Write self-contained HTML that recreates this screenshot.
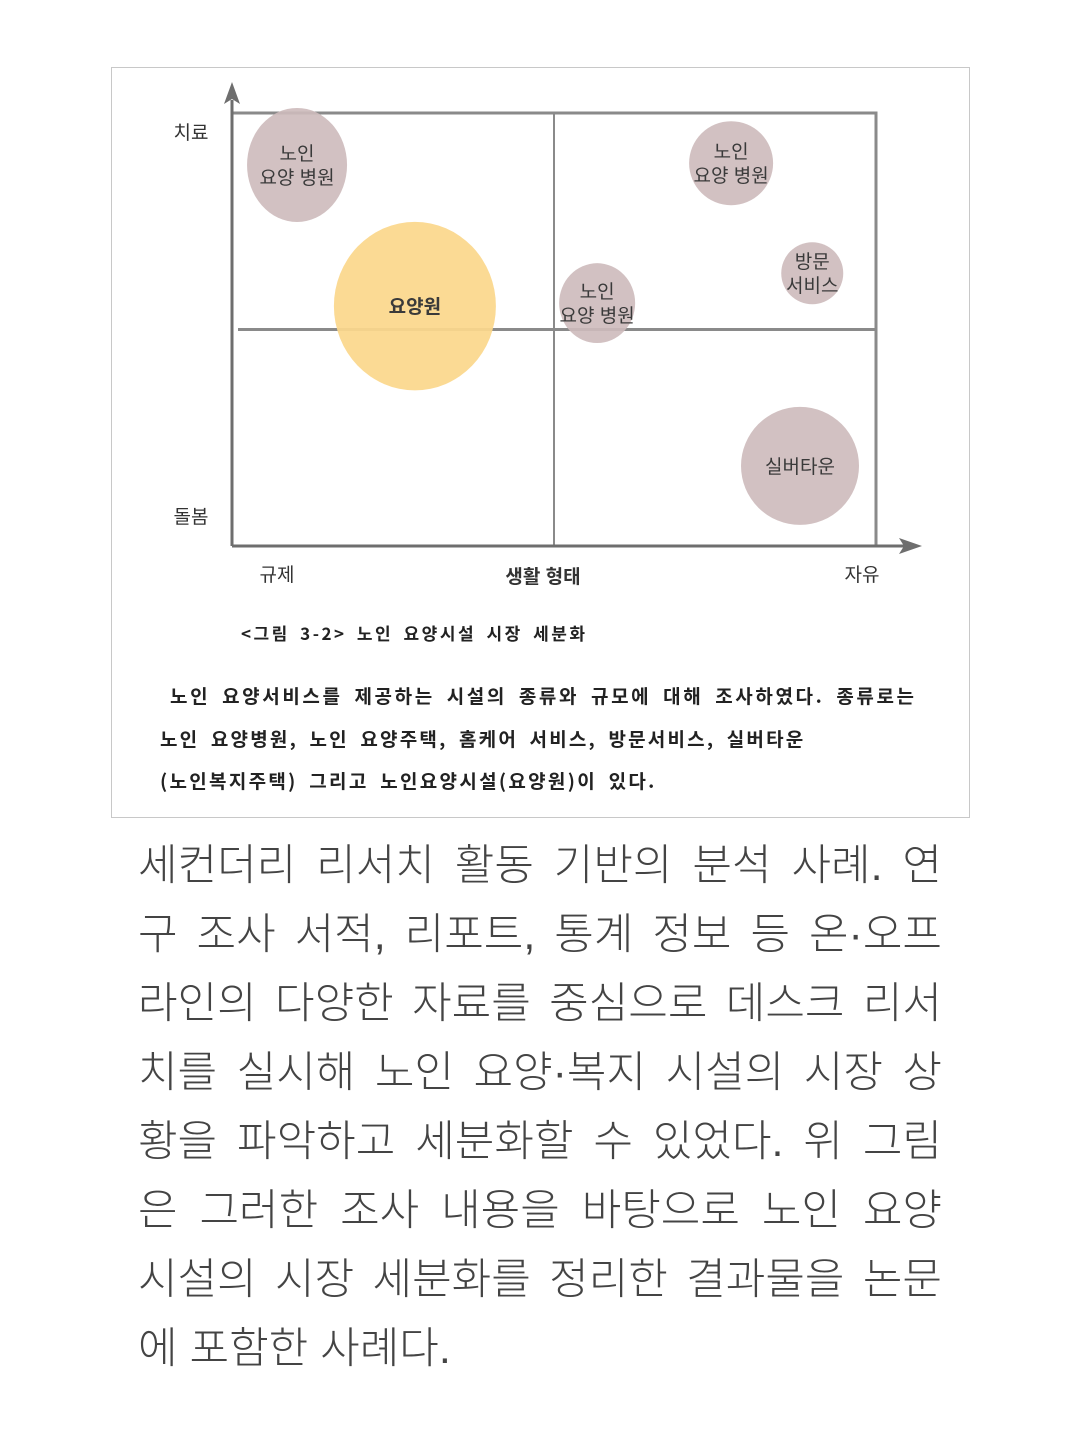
<!DOCTYPE html>
<html><head><meta charset="utf-8">
<style>
body{margin:0;background:#fff;width:1078px;height:1440px;overflow:hidden;font-family:"Liberation Sans","Noto Sans CJK KR",sans-serif;}
#frame{position:absolute;left:111px;top:67px;width:857px;height:749px;border:1px solid #c8c8c8;}
#chart{position:absolute;left:0;top:0;}
.cap{position:absolute;font-family:"Noto Sans CJK KR",sans-serif;color:#222;font-weight:bold;white-space:nowrap;}
#body{position:absolute;left:138px;top:832px;width:804px;font-size:43px;line-height:69px;color:#444;font-weight:300;}
#body div{text-align:justify;text-align-last:justify;white-space:nowrap;}
#body div.last{text-align-last:left;}
</style></head><body>
<div id="frame"></div>
<svg id="chart" width="1078" height="620" font-family="Liberation Sans, Noto Sans CJK KR, sans-serif"></svg>
<div class="cap" style="left:241px;top:620px;font-size:17px;word-spacing:4px;letter-spacing:2.5px;">&lt;그림 3-2&gt; 노인 요양시설 시장 세분화</div>
<div class="cap" style="left:170px;top:682px;font-size:19px;word-spacing:5px;letter-spacing:2.6px;">노인 요양서비스를 제공하는 시설의 종류와 규모에 대해 조사하였다. 종류로는</div>
<div class="cap" style="left:160px;top:725px;font-size:19px;word-spacing:5px;letter-spacing:2.2px;">노인 요양병원, 노인 요양주택, 홈케어 서비스, 방문서비스, 실버타운</div>
<div class="cap" style="left:160px;top:767px;font-size:19px;word-spacing:5px;letter-spacing:2.3px;">(노인복지주택) 그리고 노인요양시설(요양원)이 있다.</div>
<div id="body">
<div>세컨더리 리서치 활동 기반의 분석 사례. 연</div>
<div>구 조사 서적, 리포트, 통계 정보 등 온·오프</div>
<div>라인의 다양한 자료를 중심으로 데스크 리서</div>
<div>치를 실시해 노인 요양·복지 시설의 시장 상</div>
<div>황을 파악하고 세분화할 수 있었다. 위 그림</div>
<div>은 그러한 조사 내용을 바탕으로 노인 요양</div>
<div>시설의 시장 세분화를 정리한 결과물을 논문</div>
<div class="last">에 포함한 사례다.</div>
</div>
<script>
const labels=[["노인","요양 병원"],["요양원"],["노인","요양 병원"],["노인","요양 병원"],["방문","서비스"],["실버타운"]];
const xVals=[10.1,28.4,56.7,77.5,90.1,88.2];
const yVals=[88.0,55.4,56.1,88.4,63.0,18.5];
const sizes=[50,81,38,42,31,59];
const aspect=[1.14,1.04,1.05,1.0,1.0,1.0];
const highlight=[false,true,false,false,false,false];
const X0=232,X1=876,Y0=546,Y1=113;
const sx=v=>X0+v/100*(X1-X0);
const sy=v=>Y0-v/100*(Y0-Y1);
const svg=document.getElementById('chart');
const NS='http://www.w3.org/2000/svg';
function mk(t,a){const e=document.createElementNS(NS,t);for(const k in a)e.setAttribute(k,a[k]);svg.appendChild(e);return e;}
let e;
e=mk('path',{d:`M${X0} ${Y1} H${X1} V${Y0}`,fill:'none',stroke:'#8a8a8a','stroke-width':3});


e=mk('line',{x1:sx(50),y1:Y1,x2:sx(50),y2:Y0,stroke:'#8a8a8a','stroke-width':2});


e=mk('line',{x1:238,y1:sy(50),x2:X1,y2:sy(50),stroke:'#8a8a8a','stroke-width':3});


e=mk('line',{x1:X0,y1:Y0,x2:X0,y2:100,stroke:'#6e6e6e','stroke-width':3});


e=mk('path',{d:`M${X0} 82 L${X0-8} 104 L${X0} 99 L${X0+8} 104 Z`,fill:'#6e6e6e'});


e=mk('line',{x1:X0,y1:Y0,x2:905,y2:Y0,stroke:'#6e6e6e','stroke-width':3});


e=mk('path',{d:`M922 ${Y0} L899 ${Y0-8} L904 ${Y0} L899 ${Y0+8} Z`,fill:'#6e6e6e'});


for(let i=0;i<xVals.length;i++){
  const cx=sx(xVals[i]),cy=sy(yVals[i]),r=sizes[i];
  const c=mk('ellipse',{cx:cx,cy:cy,rx:r,ry:r*aspect[i],fill:highlight[i]?'#fbd78c':'#cdbabb','fill-opacity':highlight[i]?0.93:0.9});
  
  
  const L=labels[i],lh=24,top=cy-(L.length-1)*lh/2+7;
  L.forEach((s,j)=>{
    const t=mk('text',{x:cx,y:top+j*lh,'text-anchor':'middle','font-size':19,fill:'#3a3a3a','font-weight':highlight[i]?'bold':'normal'});
    t.textContent=s;
    
    
  });
}
const axisTexts=[["치료",191,139,'normal'],["돌봄",191,523,'normal'],["규제",277,581,'normal'],["생활 형태",543,583,'bold'],["자유",862,581,'normal']];
const axisNames=['y-axis-top-label','y-axis-bottom-label','x-axis-left-label','x-axis-title','x-axis-right-label'];
axisTexts.forEach((a,i)=>{
  const t=mk('text',{x:a[1],y:a[2],'text-anchor':'middle','font-size':19,fill:'#333','font-weight':a[3]});
  t.textContent=a[0];
  
  
});
</script>
</body></html>
